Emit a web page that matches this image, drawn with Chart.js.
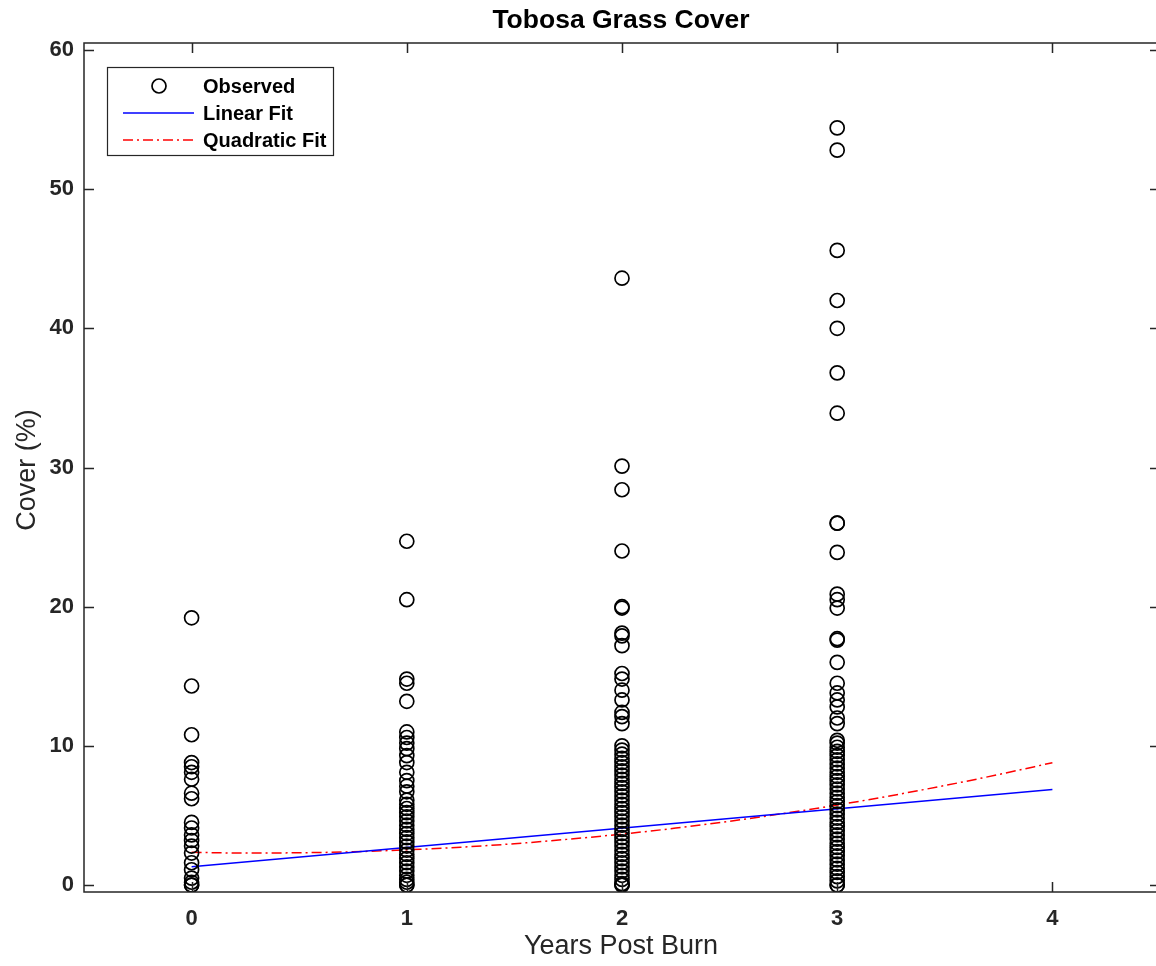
<!DOCTYPE html>
<html>
<head>
<meta charset="utf-8">
<script src="https://cdn.jsdelivr.net/npm/chart.js@4.4.1/dist/chart.umd.min.js"></script>
<style>
html,body{margin:0;padding:0;background:#fff;overflow:hidden;width:1156px;height:966px;}
canvas{display:block;}
</style>
</head>
<body>
<canvas id="c" width="1156" height="966" style="width:1156px;height:966px"></canvas>
<script>
// ---- data ----
const chartTitle = "Tobosa Grass Cover";
const xTitle = "Years Post Burn";
const yTitle = "Cover (%)";
const xTicks = [0, 1, 2, 3, 4];
const yTicks = [0, 10, 20, 30, 40, 50, 60];

const cover0 = [19.2, 14.3, 10.8, 8.8, 8.5, 8.1, 7.6, 6.6, 6.2, 4.5, 4.1, 3.6, 3.2, 2.8, 2.3, 1.6, 1.1, 0.5, 0.2, 0, 0];
const cover1 = [24.7, 20.5, 14.8, 14.5, 13.2, 11.0, 10.6, 10.2, 9.8, 9.3, 8.8, 8.1, 7.5, 7.1, 6.7, 6.1,
                5.8, 5.5, 5.2, 4.9, 4.6, 4.3, 4.0, 3.7, 3.4, 3.1, 2.8, 2.5, 2.2, 1.9, 1.6, 1.3, 1.0, 0.7, 0.4, 0.2, 0, 0];
const cover2 = [43.6, 30.1, 28.4, 24.0, 20.0, 19.9, 18.1, 17.9, 17.2, 15.2, 14.8, 14.0, 13.3, 12.4, 12.1, 11.6,
                10.0, 9.7, 9.4, 9.1, 8.8, 8.5, 8.2, 7.9, 7.6, 7.3, 7.0, 6.7, 6.4, 6.1, 5.8, 5.5, 5.2, 4.9, 4.6,
                4.3, 4.0, 3.7, 3.4, 3.1, 2.8, 2.5, 2.2, 1.9, 1.6, 1.3, 1.0, 0.7, 0.4, 0.1, 0, 0];
const cover3 = [54.4, 52.8, 45.6, 42.0, 40.0, 36.8, 33.9, 26.0, 26.0, 23.9, 20.9, 20.5, 19.9, 17.7, 17.6, 16.0,
                14.5, 13.8, 13.3, 12.8, 12.0, 11.6, 10.4,
                10.2, 9.9, 9.6, 9.3, 9.0, 8.7, 8.4, 8.1, 7.8, 7.5, 7.2, 6.9, 6.6, 6.3, 6.0, 5.7, 5.4, 5.1, 4.8,
                4.5, 4.2, 3.9, 3.6, 3.3, 3.0, 2.7, 2.4, 2.1, 1.8, 1.5, 1.2, 0.9, 0.6, 0.3, 0, 0];

const linearX = [0, 4];
const linearY = [1.31, 6.87];
const quadX = [0, 0.25, 0.5, 0.75, 1, 1.25, 1.5, 1.75, 2, 2.25, 2.5, 2.75, 3, 3.25, 3.5, 3.75, 4];
const quadY = [2.35, 2.30, 2.32, 2.39, 2.53, 2.72, 2.97, 3.29, 3.66, 4.09, 4.58, 5.14, 5.75, 6.42, 7.15, 7.94, 8.79];

// ---- build datasets ----
const observed = [];
[[0, cover0], [1, cover1], [2, cover2], [3, cover3]].forEach(([yr, arr]) => arr.forEach(v => observed.push({x: yr, y: v})));
const linPts = linearX.map((x, i) => ({x, y: linearY[i]}));
const quadPts = quadX.map((x, i) => ({x, y: quadY[i]}));

const AX = '#262626';
const FONT = '"Liberation Sans", Arial, Helvetica, sans-serif';
const PLOT_RIGHT = 1160; // plot box extends just past the visible page edge

const extendRight = {
  id: 'extendRight',
  afterLayout(chart) {
    const a = chart.chartArea;
    a.right = PLOT_RIGHT;
    a.width = a.right - a.left;
    const x = chart.scales.x;
    x.right = PLOT_RIGHT;
    x.width = x.right - x.left;
    x.configure();
  }
};

const decor = {
  id: 'decor',
  afterDraw(chart) {
    const {ctx, chartArea: a, scales: {x, y}} = chart;
    ctx.save();
    // box
    ctx.strokeStyle = AX; ctx.lineWidth = 1.5;
    ctx.strokeRect(a.left, a.top, a.right - a.left, a.bottom - a.top);
    // inward ticks
    const tl = 10;
    ctx.beginPath();
    xTicks.forEach(v => {
      const px = Math.round(x.getPixelForValue(v)) + 0.5;
      ctx.moveTo(px, a.bottom); ctx.lineTo(px, a.bottom - tl);
      ctx.moveTo(px, a.top); ctx.lineTo(px, a.top + tl);
    });
    yTicks.forEach(v => {
      const py = Math.round(y.getPixelForValue(v)) + 0.5;
      ctx.moveTo(a.left, py); ctx.lineTo(a.left + tl, py);
      ctx.moveTo(a.right, py); ctx.lineTo(a.right - tl, py);
    });
    ctx.stroke();
    // title
    ctx.fillStyle = '#000';
    ctx.font = 'bold 26.5px ' + FONT;
    ctx.textAlign = 'center'; ctx.textBaseline = 'middle';
    ctx.fillText(chartTitle, 621, 21);
    // axis titles
    ctx.fillStyle = AX;
    ctx.font = '27px ' + FONT;
    ctx.fillText(xTitle, 621, 947);
    ctx.save();
    ctx.translate(28, 470);
    ctx.rotate(-Math.PI / 2);
    ctx.fillText(yTitle, 0, 0);
    ctx.restore();
    // legend
    const lx = 107, ly = 67, lw = 226, lh = 88;
    ctx.fillStyle = '#fff';
    ctx.fillRect(lx, ly, lw, lh);
    ctx.strokeStyle = AX; ctx.lineWidth = 1.2;
    ctx.strokeRect(lx + 0.5, ly + 0.5, lw, lh);
    const rows = [86, 113, 140];
    ctx.strokeStyle = '#000'; ctx.lineWidth = 1.7;
    ctx.beginPath(); ctx.arc(159, rows[0], 7, 0, Math.PI * 2); ctx.stroke();
    ctx.strokeStyle = '#0000ff'; ctx.lineWidth = 1.5;
    ctx.beginPath(); ctx.moveTo(123, rows[1]); ctx.lineTo(194, rows[1]); ctx.stroke();
    ctx.strokeStyle = '#ff0000'; ctx.setLineDash([10, 4, 2, 4]);
    ctx.beginPath(); ctx.moveTo(123, rows[2]); ctx.lineTo(194, rows[2]); ctx.stroke();
    ctx.setLineDash([]);
    ctx.fillStyle = '#000';
    ctx.font = 'bold 20px ' + FONT;
    ctx.textAlign = 'left';
    ['Observed', 'Linear Fit', 'Quadratic Fit'].forEach((t, i) => ctx.fillText(t, 203, rows[i] + 1));
    ctx.restore();
  }
};

new Chart(document.getElementById('c'), {
  type: 'scatter',
  data: {
    datasets: [
      {label: 'Observed', data: observed, showLine: false, pointStyle: 'circle', pointRadius: 7,
       pointBorderWidth: 1.7, pointBorderColor: '#000', pointBackgroundColor: 'rgba(0,0,0,0)', pointHoverRadius: 7},
      {label: 'Linear Fit', type: 'line', data: linPts, borderColor: '#0000ff', borderWidth: 1.5, pointRadius: 0, fill: false},
      {label: 'Quadratic Fit', type: 'line', data: quadPts, borderColor: '#ff0000', borderWidth: 1.5, pointRadius: 0,
       borderDash: [10, 4, 2, 4], fill: false, cubicInterpolationMode: 'monotone'}
    ]
  },
  options: {
    responsive: false,
    animation: false,
    events: [],
    layout: {padding: {top: 43, left: 0, right: 0, bottom: 0}},
    plugins: {legend: {display: false}, tooltip: {enabled: false}, title: {display: false}},
    scales: {
      x: {
        type: 'linear', min: -0.5, max: 4.5,
        afterBuildTicks: s => { s.ticks = xTicks.map(v => ({value: v})); },
        afterFit: s => { s.height = 74; },
        grid: {display: false, drawTicks: false},
        border: {display: false},
        ticks: {color: AX, font: {family: FONT, size: 22, weight: 'bold'}, padding: 14, maxRotation: 0}
      },
      y: {
        type: 'linear', min: -0.5, max: 60.5,
        afterBuildTicks: s => { s.ticks = yTicks.map(v => ({value: v})); },
        afterFit: s => { s.width = 84; },
        grid: {display: false, drawTicks: false},
        border: {display: false},
        ticks: {color: AX, font: {family: FONT, size: 22, weight: 'bold'}, padding: 10}
      }
    }
  },
  plugins: [extendRight, decor]
});
</script>
</body>
</html>
